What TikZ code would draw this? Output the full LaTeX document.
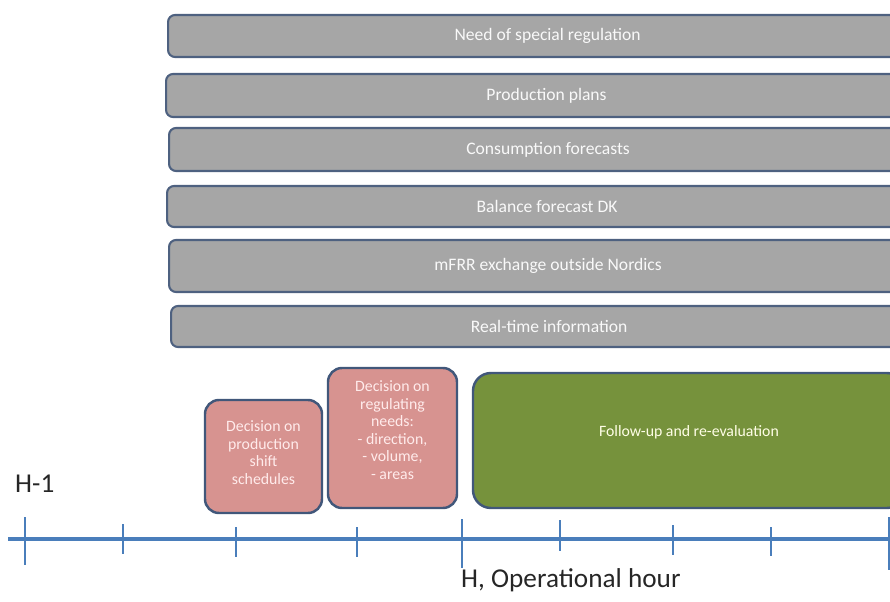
\documentclass[tikz,border=0pt]{standalone}
\usepackage{fontspec}
\setmainfont{Carlito}
\usetikzlibrary{calc}

\definecolor{grisinfo}{HTML}{A6A6A6}
\definecolor{bordinfo}{HTML}{4E6180}
\definecolor{rosedecision}{HTML}{D79390}
\definecolor{vertsuivi}{HTML}{76923C}
\definecolor{bordboite}{HTML}{41577A}
\definecolor{bleuaxe}{HTML}{4A7EBB}

\begin{document}
\begin{tikzpicture}[x=0.2mm,y=-0.2mm]
        \tikzstyle {info} = [rectangle, rounded corners=1.4mm, anchor=west, draw=bordinfo, line width=1.2pt, fill=grisinfo, text=white!95!gray, font=\fontsize{10}{12}\selectfont]
        \tikzstyle {decision} = [rectangle, rounded corners=2.8mm, draw=bordboite, line width=1.4pt, fill=rosedecision, text=red!8!white, align=center, font=\fontsize{9}{10}\selectfont]
        \tikzstyle {suivi} = [rectangle, rounded corners=3.6mm, draw=bordboite, line width=1.4pt, fill=vertsuivi, text=yellow!10!white, font=\fontsize{9}{10}\selectfont]
        \tikzstyle {axe} = [bleuaxe, line width=1.8pt]
        \tikzstyle {graduation} = [bleuaxe, line width=1.4pt]
        \useasboundingbox (0,0) rectangle (890,601);
        \clip (0,0) rectangle (890,601);
        % Informations
        \node (regulation) [info, minimum width=151.8mm, minimum height=8.4mm] at (167,36) {Need of special regulation};
        \node (production) [info, minimum width=152.2mm, minimum height=8.6mm] at (165,95.5) {Production plans};
        \node (consommation) [info, minimum width=151.6mm, minimum height=8.6mm] at (168,149.5) {Consumption forecasts};
        \node (balance) [info, minimum width=152mm, minimum height=8.2mm] at (166,206.5) {Balance forecast DK};
        \node (mfrr) [info, minimum width=151.6mm, minimum height=10.4mm] at (168,266) {mFRR exchange outside Nordics};
        \node (temps_reel) [info, minimum width=151.2mm, minimum height=8.2mm] at (170,326.5) {Real-time information};
        % Décisions
        \node (horaires) [decision, minimum width=23.4mm, minimum height=22.6mm] at (263.5,456.5) {};
        \node (horaires_texte) [decision, draw=none, fill=none] at ($(horaires.center)+(0,-4)$) {Decision on\\production\\shift\\schedules};
        \node (besoins) [decision, minimum width=25.8mm, minimum height=28mm] at (392.5,438) {};
        \node (besoins_texte) [decision, draw=none, fill=none] at ($(besoins.center)+(0,-8)$) {Decision on\\regulating\\needs:\\- direction,\\- volume,\\- areas};
        \node (suivi) [suivi, minimum width=86.4mm, minimum height=27mm] at (689,440.5) {};
        \node (suivi_texte) [suivi, draw=none, fill=none] at ($(suivi.center)+(0,-8)$) {Follow-up and re-evaluation};
        % Axe du temps
        \coordinate (axe_debut) at (8,539);
        \coordinate (axe_fin) at (890,539);
        \draw[axe] (axe_debut) -- (axe_fin);
        \draw[graduation] (25,517) -- (25,565);
        \draw[graduation] (123,524) -- (123,554);
        \draw[graduation] (236,527) -- (236,557);
        \draw[graduation] (357,527) -- (357,557);
        \draw[graduation] (462,519) -- (462,568);
        \draw[graduation] (560,520) -- (560,551);
        \draw[graduation] (673,525) -- (673,555);
        \draw[graduation] (771,527) -- (771,556);
        \draw[graduation] (889,517) -- (889,570);
        \node (h_moins_un) [anchor=west, text=black!85, font=\fontsize{15.5}{18}\selectfont] at (9,484) {H-1};
        \node (h_operation) [anchor=west, text=black!85, font=\fontsize{15.5}{18}\selectfont] at (455,580) {H, Operational hour};
\end{tikzpicture}
\end{document}
